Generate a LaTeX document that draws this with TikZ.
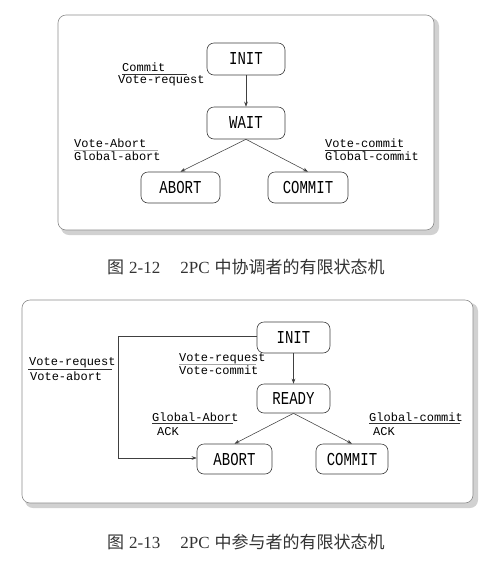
\documentclass[tikz,border=0pt]{standalone}
\usepackage{fontspec}
\usepackage{graphicx}
\setmainfont{Liberation Serif}
\setmonofont{Liberation Mono}
\newfontfamily\cjk{Noto Sans CJK SC}
\usetikzlibrary{arrows.meta}
\newcommand\stxt[1]{\scalebox{1}[1.3]{#1}}
\begin{document}
\begin{tikzpicture}[x=1pt,y=-1pt,
  panel/.style={draw=black!45, line width=0.6pt, fill=white, rounded corners=8pt},
  shadowbox/.style={fill=black!18, rounded corners=8pt},
  state/.style={draw=black!75, line width=0.6pt, rounded corners=7pt, fill=white,
    font=\ttfamily\fontsize{14}{14}\selectfont, inner sep=0pt},
  lab/.style={anchor=west, inner sep=0pt, align=left},
  arr/.style={draw=black!75, line width=0.55pt, -{Stealth[length=5pt,width=3.6pt]}},
  rulel/.style={draw=black!80, line width=0.5pt},
  fruler/.style={draw=black!35, line width=0.5pt},
  captxt/.style={font=\fontsize{17}{17}\selectfont, text=black!80, anchor=west, inner sep=0pt}]
\useasboundingbox (0,0) rectangle (490,566);
\fill[white] (0,0) rectangle (490,566);

% ---------- Panel 1 ----------
\fill[shadowbox] (61,18) rectangle (439,235);
\draw[panel] (58,15) rectangle (434,230);

\node[state, minimum width=78pt, minimum height=32pt] (i1) at (246,59) {\stxt{INIT}};
\node[state, minimum width=78pt, minimum height=32pt] (w1) at (246,123) {\stxt{WAIT}};
\node[state, minimum width=79pt, minimum height=31pt] (a1) at (180.5,187.5) {\stxt{ABORT}};
\node[state, minimum width=80pt, minimum height=31pt] (c1) at (308,187.5) {\stxt{COMMIT}};

\draw[arr] (i1) -- (w1);
\draw[arr] (w1.south) -- (a1.north);
\draw[arr] (w1.south) -- (c1.north);

\node[lab, font=\ttfamily\fontsize{12}{11.5}\selectfont] (t1) at (118,74.25) {\hspace{4pt}Commit\\Vote-request};
\draw[rulel] (122,74.5) -- (187,74.5);

\node[lab, font=\ttfamily\fontsize{12}{12.5}\selectfont] (t2) at (74,149.75) {Vote-Abort\\Global-abort};
\draw[fruler] (74,150) -- (158,150);

\node[lab, font=\ttfamily\fontsize{12}{12.5}\selectfont] (t3) at (325,149.75) {Vote-commit\\Global-commit};
\draw[rulel] (325,150) -- (401,150);

\node[captxt] (cap1) at (107,267) {{\cjk 图}\hspace{5pt}2-12\hspace{20pt}2PC\hspace{5pt}{\cjk 中协调者的有限状态机}};

% ---------- Panel 2 ----------
\fill[shadowbox] (25,303) rectangle (478,508);
\draw[panel] (22,300) rectangle (473,503);

\node[state, minimum width=73pt, minimum height=31pt] (i2) at (293.5,337.5) {\stxt{INIT}};
\node[state, minimum width=73pt, minimum height=29pt] (r2) at (293.5,398.5) {\stxt{READY}};
\node[state, minimum width=75pt, minimum height=30pt] (a2) at (234.5,459) {\stxt{ABORT}};
\node[state, minimum width=72pt, minimum height=30pt] (c2) at (352,459) {\stxt{COMMIT}};

\draw[arr] (i2) -- (r2);
\draw[arr] (r2.south) -- (a2.north);
\draw[arr] (r2.south) -- (c2.north);

\coordinate (k1) at (118,336);
\coordinate (k2) at (118,458);
\draw[arr] (i2.west |- k1) -- (k1) -- (k2) -- (a2.west |- k2);

\node[lab, font=\ttfamily\fontsize{12}{15}\selectfont] (u1) at (29,369.5) {Vote-request\\\hspace{1pt}Vote-abort};
\draw[rulel] (28,369.5) -- (112,369.5);

\node[lab, font=\ttfamily\fontsize{12}{13.5}\selectfont] (u2) at (179,364.25) {Vote-request\\Vote-commit};
\draw[fruler] (179,364.5) -- (256,364.5);

\node[lab, font=\ttfamily\fontsize{12}{13.5}\selectfont] (u3) at (152,424.25) {Global-Abort\\\hspace{5pt}ACK};
\draw[rulel] (152,423.5) -- (233,423.5);

\node[lab, font=\ttfamily\fontsize{12}{13.5}\selectfont] (u4) at (369,424.25) {Global-commit\\\hspace{4pt}ACK};
\draw[rulel] (369,423.5) -- (460,423.5);

\node[captxt] (cap2) at (107,542) {{\cjk 图}\hspace{5pt}2-13\hspace{20pt}2PC\hspace{5pt}{\cjk 中参与者的有限状态机}};
\end{tikzpicture}
\end{document}
